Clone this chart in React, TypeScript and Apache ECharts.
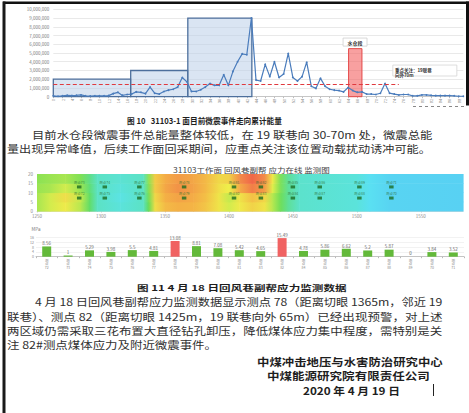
import React, { useEffect, useRef } from "react";
import * as echarts from "echarts";

const FONT = "'Noto Sans CJK SC', 'Noto Sans', sans-serif";

// ---- Fig.10: cumulative micro-seismic energy along strike (J), one value per station index
const energyJ = [
  100000, 50000, 100000, 150000, 120000, 150000, 200000, 100000, 80000, 100000,
  100000, 100000, 120000, 350000, 500000, 150000, 250000, 300000, 550000, 500000,
  350000, 1100000, 400000, 300000, 600000, 750000, 850000, 1100000, 2200000, 1700000,
  600000, 600000, 800000, 1100000, 1500000, 1300000, 1300000, 2500000, 1300000, 2900000,
  4000000, 4900000, 4800000, 9000000, 1900000, 1800000, 3700000, 2300000, 4000000, 2200000,
  2600000, 4950000, 2200000, 1800000, 2300000, 3950000, 1200000, 950000, 2100000, 1200000,
  850000, 750000, 700000, 550000, 1050000, 700000, 500000, 550000, 300000, 300000,
  250000, 400000, 1500000, 400000, 300000, 200000, 250000, 250000, 100000, 100000,
  200000, 200000, 150000, 120000, 120000, 120000, 120000, 100000, 50000, 50000,
];
// highlighted stages (station index range and energy ceiling)
const stageFrom = [0, 16.8, 29.2];
const stageTo = [16.8, 29.2, 43.1];
const stageTop = [2000000, 3000000, 9000000];
// water sump section
const sumpFrom = 64.1;
const sumpTo = 67;
const sumpTop = 5500000;
const sumpLabel = "水仓段";
// alert level line
const alertLevel = 1420000;
const alertEnd = 75;
const focusNote = "重点关注：19联巷\n向外70m";

// ---- Fig.11 (upper): stress field along the roadway rib, 4 depth bands
const heatStations = [1250, 1260, 1272, 1284, 1291, 1297, 1315, 1333, 1337, 1342, 1350, 1360, 1372, 1382, 1392, 1400, 1408, 1418, 1428, 1434, 1440, 1446, 1455, 1500, 1510, 1525, 1583];
const heatBandEdges = [0, 5, 10, 15, 20];
const heatBand0 = [7.0, 7.6, 8.2, 7.2, 5.8, 4.6, 4.3, 4.6, 6.0, 8.6, 9.8, 10.2, 10.0, 9.4, 8.4, 7.6, 8.2, 9.0, 8.4, 7.2, 6.2, 5.2, 4.5, 4.3, 3.8, 3.2, 3.0];
const heatBand1 = [7.0, 7.6, 8.6, 7.4, 5.8, 4.6, 4.2, 4.6, 6.2, 8.8, 10.2, 10.8, 10.4, 9.6, 8.4, 7.4, 8.4, 9.6, 8.8, 7.2, 6.2, 5.2, 4.5, 4.3, 3.8, 3.2, 3.0];
const heatBand2 = [6.8, 7.0, 7.6, 6.8, 5.6, 4.6, 4.3, 4.6, 6.4, 9.2, 10.6, 11.6, 10.8, 9.8, 8.6, 8.0, 10.4, 12.6, 11.0, 7.8, 6.4, 5.2, 4.5, 4.3, 3.8, 3.2, 3.0];
const heatBand3 = [6.6, 6.8, 7.0, 6.4, 5.4, 4.6, 4.4, 4.6, 6.6, 9.2, 10.4, 11.2, 10.6, 9.8, 8.8, 9.0, 11.8, 13.6, 11.8, 8.2, 6.4, 5.2, 4.5, 4.3, 3.8, 3.2, 3.0];
const heatBands = [heatBand0, heatBand1, heatBand2, heatBand3];
// gauge positions (distance from open-off cut, m) and their two depths
const gaugeDistance = [1283, 1303, 1330, 1365, 1404, 1425, 1450, 1471, 1502, 1527];
const upperGauges = ["测点73", "测点74", "测点77", "测点78", "测点81", "测点82", "测点85", "测点86", "测点89", "测点71"];
const lowerGauges = ["测点72", "测点75", "测点76", "测点79", "测点80", "测点83", "测点84", "测点87", "测点88", "测点70"];
const upperDepth = 13;
const lowerDepth = 7;

// ---- Fig.11 (lower): stress readings on 18 April (MPa)
const barPoints = ["测点72", "测点73", "测点74", "测点75", "测点76", "测点77", "测点78", "测点79", "测点80", "测点81", "测点83", "测点82", "测点84", "测点85", "测点86", "测点87", "测点88", "测点89", "测点70", "测点71"];
const barValues = [8.56, 1, 5.29, 3.98, 5.5, 4.81, 13.08, 8.81, 7.08, 5.42, 4.65, 15.49, 4.78, 5.86, 6.62, 5.2, 5.87, 0, 3.84, 3.52];
const warnLevel = 12;

// ---- document text
const caption10 = "图 10   31103-1 面目前微震事件走向累计能量";
const para1 = [
  "目前水仓段微震事件总能量整体较低，在 19 联巷向 30-70m 处，微震总能",
  "量出现异常峰值，后续工作面回采期间，应重点关注该位置动载扰动诱冲可能。",
];
const heatTitle = "31103工作面 回风巷副帮 应力在线 监测图";
const caption11 = "图 11 4 月 18 日回风巷副帮应力监测数据";
const para2 = [
  "4 月 18 日回风巷副帮应力监测数据显示测点 78（距离切眼 1365m，邻近 19",
  "联巷）、测点 82（距离切眼 1425m，19 联巷向外 65m）已经出现预警，对上述",
  "两区域仍需采取三花布置大直径钻孔卸压，降低煤体应力集中程度，需特别是关",
  "注 82#测点煤体应力及附近微震事件。",
];
const signature = ["中煤冲击地压与水害防治研究中心", "中煤能源研究院有限责任公司", "2020 年 4 月 19 日"];

const heatPalette = ["#4a9ef0", "#56bdf3", "#5ae4f2", "#62dc58", "#eef04a", "#f4b445", "#f28a48", "#ef5d48", "#e84040"];
const heatMax = 16;
const heatColor = (v: number) => echarts.color.lerp(Math.max(0, Math.min(1, v / heatMax)), heatPalette) as string;

const measureCtx = document.createElement("canvas").getContext("2d") as CanvasRenderingContext2D;
function textWidth(text: string, size: number, weight: string) {
  measureCtx.font = `${weight} ${size}px ${FONT}`;
  return measureCtx.measureText(text).width;
}

function textLine(text: string, left: number, y: number, size: number, weight: string, width: number | null, scale?: number, fill = "#303030") {
  const sx = width != null ? width / textWidth(text, size, weight) : scale ?? 1;
  return {
    type: "text",
    x: left,
    y,
    scaleX: sx,
    silent: true,
    style: {
      text,
      fontSize: size,
      fontFamily: FONT,
      fontWeight: weight,
      fill,
      textAlign: "left",
      textVerticalAlign: "middle",
      verticalAlign: "middle",
    },
  };
}

function buildOption() {
  const energyData = energyJ.map((v, i) => [i, v]);

  const stageAreas = stageFrom.map((from, k) => [
    {
      coord: [from, 0],
      itemStyle: { color: "rgba(188,208,234,0.55)", borderColor: "#4d6f9c", borderWidth: 1.3 },
      label: { show: false },
    },
    { coord: [stageTo[k], stageTop[k]] },
  ]);

  const heatData: number[][] = [];
  heatBands.forEach((band, b) => {
    for (let i = 0; i < heatStations.length - 1; i++) {
      heatData.push([heatStations[i], heatStations[i + 1], heatBandEdges[b], heatBandEdges[b + 1], band[i], band[i + 1]]);
    }
  });

  const gaugeData = [
    ...gaugeDistance.map((d, i) => ({ name: upperGauges[i], value: [d, upperDepth] })),
    ...gaugeDistance.map((d, i) => ({ name: lowerGauges[i], value: [d, lowerDepth] })),
  ];

  const p2Scale = 436 / textWidth(para2[2], 10.5, "normal");

  const graphics: any[] = [
    // page frame
    { type: "rect", shape: { x: 3, y: 1.5, width: 466, height: 2.5 }, style: { fill: "#111" }, silent: true },
    { type: "rect", shape: { x: 2.5, y: 1.5, width: 3, height: 412 }, style: { fill: "#1a1a1a" }, silent: true },
    { type: "rect", shape: { x: 466, y: 1.5, width: 3, height: 104 }, style: { fill: "#111" }, silent: true },
    { type: "line", shape: { x1: 413, y1: 106.5, x2: 467, y2: 106.5 }, style: { stroke: "#888", lineWidth: 1, lineDash: [3, 3] }, silent: true },
    textLine(caption10, 127, 120.5, 8, "bold", 155, undefined, "#1e1e1e"),
    textLine(para1[0], 32, 134, 10.5, "normal", 401),
    textLine(para1[1], 7, 148.5, 10.5, "normal", 424),
    textLine(heatTitle, 173, 170, 7, "normal", 157, undefined, "#444"),
    textLine(caption11, 137, 287.5, 8, "bold", 210, undefined, "#1e1e1e"),
    textLine(para2[0], 35, 301.5, 10.5, "normal", 408),
    textLine(para2[1], 7, 316, 10.5, "normal", 436),
    textLine(para2[2], 7, 330, 10.5, "normal", 436),
    textLine(para2[3], 7, 344.5, 10.5, "normal", null, p2Scale),
    textLine(signature[0], 257, 361.5, 10.5, "bold", 186, undefined, "#1e1e1e"),
    textLine(signature[1], 267, 375.5, 10.5, "bold", 163, undefined, "#1e1e1e"),
    textLine(signature[2], 303, 390, 10.5, "bold", 97, undefined, "#1e1e1e"),
    { type: "line", shape: { x1: 433.5, y1: 384, x2: 433.5, y2: 396 }, style: { stroke: "#222", lineWidth: 1 }, silent: true },
  ];

  return {
    animation: false,
    backgroundColor: "#fff",
    textStyle: { fontFamily: FONT },
    grid: [
      { left: 53.3, top: 9.3, width: 410, height: 87.4 },
      { left: 37, top: 174, width: 426, height: 37 },
      { left: 36, top: 237.5, width: 428, height: 19.2 },
    ],
    xAxis: [
      {
        type: "value",
        gridIndex: 0,
        min: 0,
        max: 89,
        interval: 2,
        axisLine: { lineStyle: { color: "#bdbdbd", width: 0.8 } },
        axisTick: { show: true, length: 1.5, lineStyle: { color: "#bdbdbd" } },
        axisLabel: { rotate: 90, fontSize: 4, color: "#8a8a8a", margin: 2, showMaxLabel: false },
        splitLine: { show: false },
      },
      {
        type: "value",
        gridIndex: 1,
        min: 1250,
        max: 1583,
        interval: 50,
        axisLine: { lineStyle: { color: "#cfcfcf", width: 0.8 } },
        axisTick: { show: true, length: 1.5, lineStyle: { color: "#cfcfcf" } },
        axisLabel: {
          fontSize: 4.5,
          color: "#8a8a8a",
          margin: 3,
          showMaxLabel: false,
          formatter: (v: number) => String(v),
        },
        splitLine: { show: false },
      },
      {
        type: "category",
        gridIndex: 2,
        data: barPoints,
        axisLine: { lineStyle: { color: "#b8b8b8", width: 0.8 } },
        axisTick: { show: true, length: 1.5, lineStyle: { color: "#b8b8b8" } },
        axisLabel: {
          interval: 0,
          fontSize: 3.5,
          lineHeight: 3.6,
          color: "#888",
          margin: 1.5,
          formatter: (v: string) => `${v.slice(0, 1)}\n${v.slice(1, 2)}\n${v.slice(2)}`,
        },
      },
    ],
    yAxis: [
      {
        type: "value",
        gridIndex: 0,
        min: 0,
        max: 10000000,
        interval: 1000000,
        axisLine: { show: false },
        axisTick: { show: false },
        axisLabel: {
          fontSize: 4.5,
          color: "#7a7a7a",
          margin: 4,
          formatter: (v: number) => v.toLocaleString("en-US"),
        },
        splitLine: { lineStyle: { color: "#e3e3e3", width: 0.8 } },
      },
      {
        type: "value",
        gridIndex: 1,
        min: 0,
        max: 20,
        interval: 5,
        axisLine: { show: false },
        axisTick: { show: false },
        axisLabel: { fontSize: 4.5, color: "#8a8a8a", margin: 4 },
        splitLine: { show: false },
      },
      {
        type: "value",
        gridIndex: 2,
        min: 0,
        max: 16,
        interval: 4,
        name: "MPa",
        nameLocation: "end",
        nameGap: 6,
        nameTextStyle: { fontSize: 4.5, color: "#777" },
        axisLine: { show: false },
        axisTick: { show: false },
        axisLabel: { fontSize: 3.5, color: "#888", margin: 2 },
        splitLine: { lineStyle: { color: "#eaeaea", width: 0.6 } },
      },
    ],
    series: [
      {
        type: "line",
        xAxisIndex: 0,
        yAxisIndex: 0,
        data: energyData,
        symbol: "circle",
        symbolSize: 1.8,
        lineStyle: { color: "#4a7cbc", width: 1.2 },
        itemStyle: { color: "#4a7cbc" },
        z: 3,
        markArea: {
          silent: true,
          data: [
            ...stageAreas,
            [
              {
                coord: [sumpFrom, 0],
                itemStyle: { color: "rgba(244,96,96,0.6)", borderColor: "#e44848", borderWidth: 1 },
                label: { show: false },
              },
              { coord: [sumpTo, sumpTop] },
            ],
            [
              {
                coord: [62.9, 5790000],
                itemStyle: { color: "#ffffff", borderColor: "#cfcfcf", borderWidth: 0.8 },
                label: { show: true, position: "inside", formatter: sumpLabel, fontSize: 5, fontWeight: "bold", color: "#333" },
              },
              { coord: [68.1, 6710000] },
            ],
            [
              {
                coord: [73.7, 2370000],
                itemStyle: { color: "#ffffff", borderColor: "#d4d4d4", borderWidth: 0.8 },
                label: {
                  show: true,
                  position: "insideTopLeft",
                  distance: 2.5,
                  formatter: focusNote,
                  fontSize: 4.5,
                  lineHeight: 5,
                  fontWeight: "bold",
                  color: "#333",
                },
              },
              { coord: [87.6, 3620000] },
            ],
          ],
        },
        markLine: {
          silent: true,
          symbol: ["none", "none"],
          label: { show: false },
          lineStyle: { color: "#e0393e", width: 1, type: [4, 2.5] },
          data: [[{ coord: [0, alertLevel] }, { coord: [alertEnd, alertLevel] }]],
        },
      },
      {
        type: "custom",
        xAxisIndex: 1,
        yAxisIndex: 1,
        data: heatData,
        encode: { x: [0, 1], y: [2, 3] },
        silent: true,
        renderItem: (params: any, api: any) => {
          const a = api.coord([api.value(0), api.value(3)]);
          const b = api.coord([api.value(1), api.value(2)]);
          return {
            type: "rect",
            shape: { x: a[0], y: a[1], width: b[0] - a[0] + 0.6, height: b[1] - a[1] + 0.6 },
            style: {
              fill: new echarts.graphic.LinearGradient(0, 0, 1, 0, [
                { offset: 0, color: heatColor(api.value(4)) },
                { offset: 1, color: heatColor(api.value(5)) },
              ]),
            },
          };
        },
      },
      {
        type: "scatter",
        xAxisIndex: 1,
        yAxisIndex: 1,
        data: gaugeData,
        symbol: "rect",
        symbolSize: [4.5, 3],
        itemStyle: { color: "#1d6b22" },
        silent: true,
        label: {
          show: true,
          position: "top",
          distance: 1,
          fontSize: 3.5,
          color: "#2b6a2b",
          formatter: (p: any) => p.name,
        },
      },
      {
        type: "bar",
        xAxisIndex: 2,
        yAxisIndex: 2,
        barWidth: 9,
        data: barValues.map((v) => ({
          value: v,
          itemStyle: { color: v >= warnLevel ? "#f06262" : "#63b93a" },
        })),
        label: { show: true, position: "top", distance: 1, fontSize: 4.5, color: "#666" },
        silent: true,
      },
    ],
    graphic: graphics,
  };
}

export default function App() {
  const ref = useRef<HTMLDivElement>(null);
  useEffect(() => {
    if (!ref.current) return;
    const chart = echarts.init(ref.current, null, { renderer: "svg", width: 469, height: 413 });
    chart.setOption(buildOption() as any);
    return () => chart.dispose();
  }, []);
  return (
    <div
      ref={ref}
      style={{ position: "absolute", left: 0, top: 0, width: 469, height: 413, background: "#fff" }}
    />
  );
}
